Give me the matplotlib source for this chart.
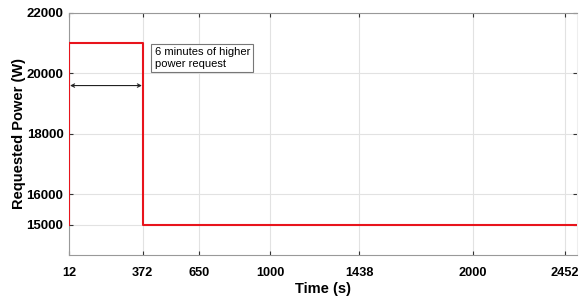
import matplotlib
matplotlib.use("Agg")
from matplotlib import pyplot as plt

# data
time_s = [12, 12, 372, 372, 2510]
power_w = [15000, 21000, 21000, 15000, 15000]
xticks = [12, 372, 650, 1000, 1438, 2000, 2452]
yticks = [15000, 16000, 18000, 20000, 22000]

plt.rcParams['font.family'] = ['Liberation Sans', 'DejaVu Sans']

fig = plt.figure(figsize=(5.8, 3.02), dpi=100)
ax = fig.add_axes([0.119, 0.156, 0.876, 0.801])

ax.plot(time_s, power_w, color='#e8141c', linewidth=1.5, zorder=3)

ax.set_xlim(10, 2512)
ax.set_ylim(14000, 22000)
ax.set_xticks(xticks)
ax.set_yticks(yticks)
ax.set_xticklabels([str(t) for t in xticks], fontweight='bold', fontsize=9.2)
ax.set_yticklabels([str(t) for t in yticks], fontweight='bold', fontsize=9.5)
ax.tick_params(direction='in', length=3, color='#333333', top=True, right=True)
ax.tick_params(axis='x', pad=9)
ax.tick_params(axis='y', pad=4)
ax.grid(True, color='#e2e2e2', linewidth=0.8)
ax.set_axisbelow(True)
for s in ax.spines.values():
    s.set_color('#999999')
    s.set_linewidth(0.8)
ax.spines['right'].set_color('#eeeeee')

ax.set_xlabel("Time (s)", fontweight='bold', fontsize=10.5, labelpad=2)
ax.set_ylabel("Requested Power (W)", fontweight='bold', fontsize=10.5)
ax.yaxis.set_label_coords(-0.085, 0.5)

ax.annotate('', xy=(15, 19600), xytext=(369, 19600),
            arrowprops=dict(arrowstyle='<->', color='#222222', lw=0.8,
                            shrinkA=0, shrinkB=0, mutation_scale=6))
ax.text(432, 20880, "6 minutes of higher\npower request", fontsize=8,
        va='top', ha='left', linespacing=1.25,
        bbox=dict(boxstyle='square,pad=0.3', fc='white', ec='#777777', lw=0.8))

fig.savefig("out.png", dpi=100)
